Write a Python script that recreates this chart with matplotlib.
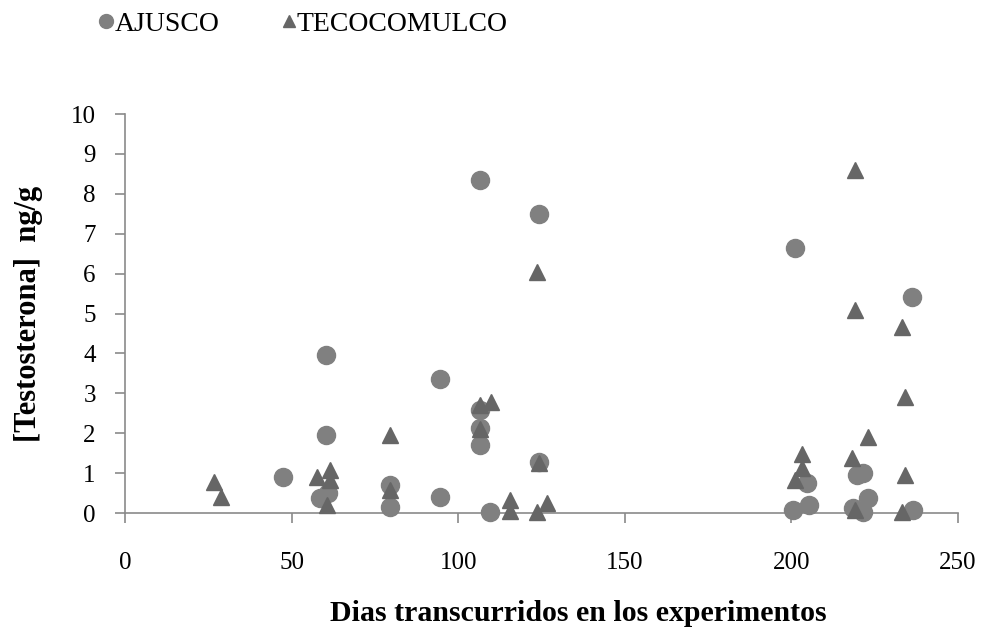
import matplotlib.pyplot as plt
from matplotlib.lines import Line2D

# AJUSCO (circles)
ajusco_dias = [47.4, 58.5, 61.0, 60.3, 60.3, 79.5, 79.5, 94.5, 94.5,
               106.5, 106.5, 106.5, 106.5, 109.5, 124.3, 124.3,
               201.1, 200.6, 204.6, 205.4, 218.6, 219.6, 221.6, 221.5,
               223.1, 236.1, 236.6]
ajusco_testo = [0.91, 0.37, 0.50, 3.96, 1.96, 0.70, 0.16, 3.36, 0.41,
                8.35, 2.58, 2.12, 1.70, 0.03, 7.49, 1.29,
                6.63, 0.08, 0.74, 0.20, 0.12, 0.95, 1.00, 0.03,
                0.37, 5.42, 0.08]

# TECOCOMULCO (triangles)
teco_dias = [26.8, 28.8, 57.5, 61.5, 61.5, 60.5, 79.5, 79.5,
             106.5, 109.7, 106.5, 115.5, 115.5, 123.6, 124.3, 123.6, 126.6,
             201.1, 203.3, 203.3, 218.1, 219.1, 219.1, 223.1, 219.1,
             233.1, 234.1, 234.1, 233.1]
teco_testo = [0.78, 0.41, 0.91, 1.08, 0.83, 0.20, 1.96, 0.58,
              2.70, 2.79, 2.10, 0.33, 0.05, 6.05, 1.25, 0.02, 0.24,
              0.83, 1.12, 1.49, 1.37, 8.60, 5.09, 1.91, 0.07,
              4.67, 2.92, 0.95, 0.03]

plt.rcParams['font.family'] = ['Liberation Serif', 'DejaVu Serif']

circle_color = '#808080'
tri_color = '#666666'
spine_color = '#8a8a8a'

fig = plt.figure(figsize=(9.85, 6.31), dpi=100)
ax = fig.add_axes([0.1269, 0.187, 0.8457, 0.6323])

ax.plot(ajusco_dias, ajusco_testo, linestyle='none', marker='o',
        markersize=13, color=circle_color, clip_on=False, zorder=3)
ax.plot(teco_dias, teco_testo, linestyle='none', marker='^',
        markersize=11, color=tri_color, clip_on=False, zorder=4)

ax.set_xlim(0, 250)
ax.set_ylim(0, 10)
ax.set_xticks([0, 50, 100, 150, 200, 250])
ax.set_yticks(range(0, 11))

for side in ['top', 'right']:
    ax.spines[side].set_visible(False)
for side in ['left', 'bottom']:
    ax.spines[side].set_color(spine_color)
    ax.spines[side].set_linewidth(1.2)

ax.tick_params(axis='x', direction='out', length=7, width=1.2,
               color=spine_color, labelsize=18, pad=21)
ax.tick_params(axis='y', direction='out', length=7, width=1.2,
               color=spine_color, labelsize=18, pad=14)

ax.set_xlabel('Dias transcurridos en los experimentos', fontsize=21.5,
              fontweight='bold')
ax.xaxis.set_label_coords(0.544, -0.218)
ax.set_ylabel('[Testosterona]  ng/g', fontsize=22, fontweight='bold',
              labelpad=20)

handles = [
    Line2D([], [], linestyle='none', marker='o', markersize=10,
           color=circle_color, label='AJUSCO'),
    Line2D([], [], linestyle='none', marker='^', markersize=9,
           color=tri_color, label='TECOCOMULCO'),
]
fig.legend(handles=handles, loc='center left', bbox_to_anchor=(0.085, 0.962),
           ncol=2, frameon=False, fontsize=20, handlelength=0.6,
           handletextpad=0.0, columnspacing=2.2, borderpad=0)

fig.savefig('out.png', dpi=100)
